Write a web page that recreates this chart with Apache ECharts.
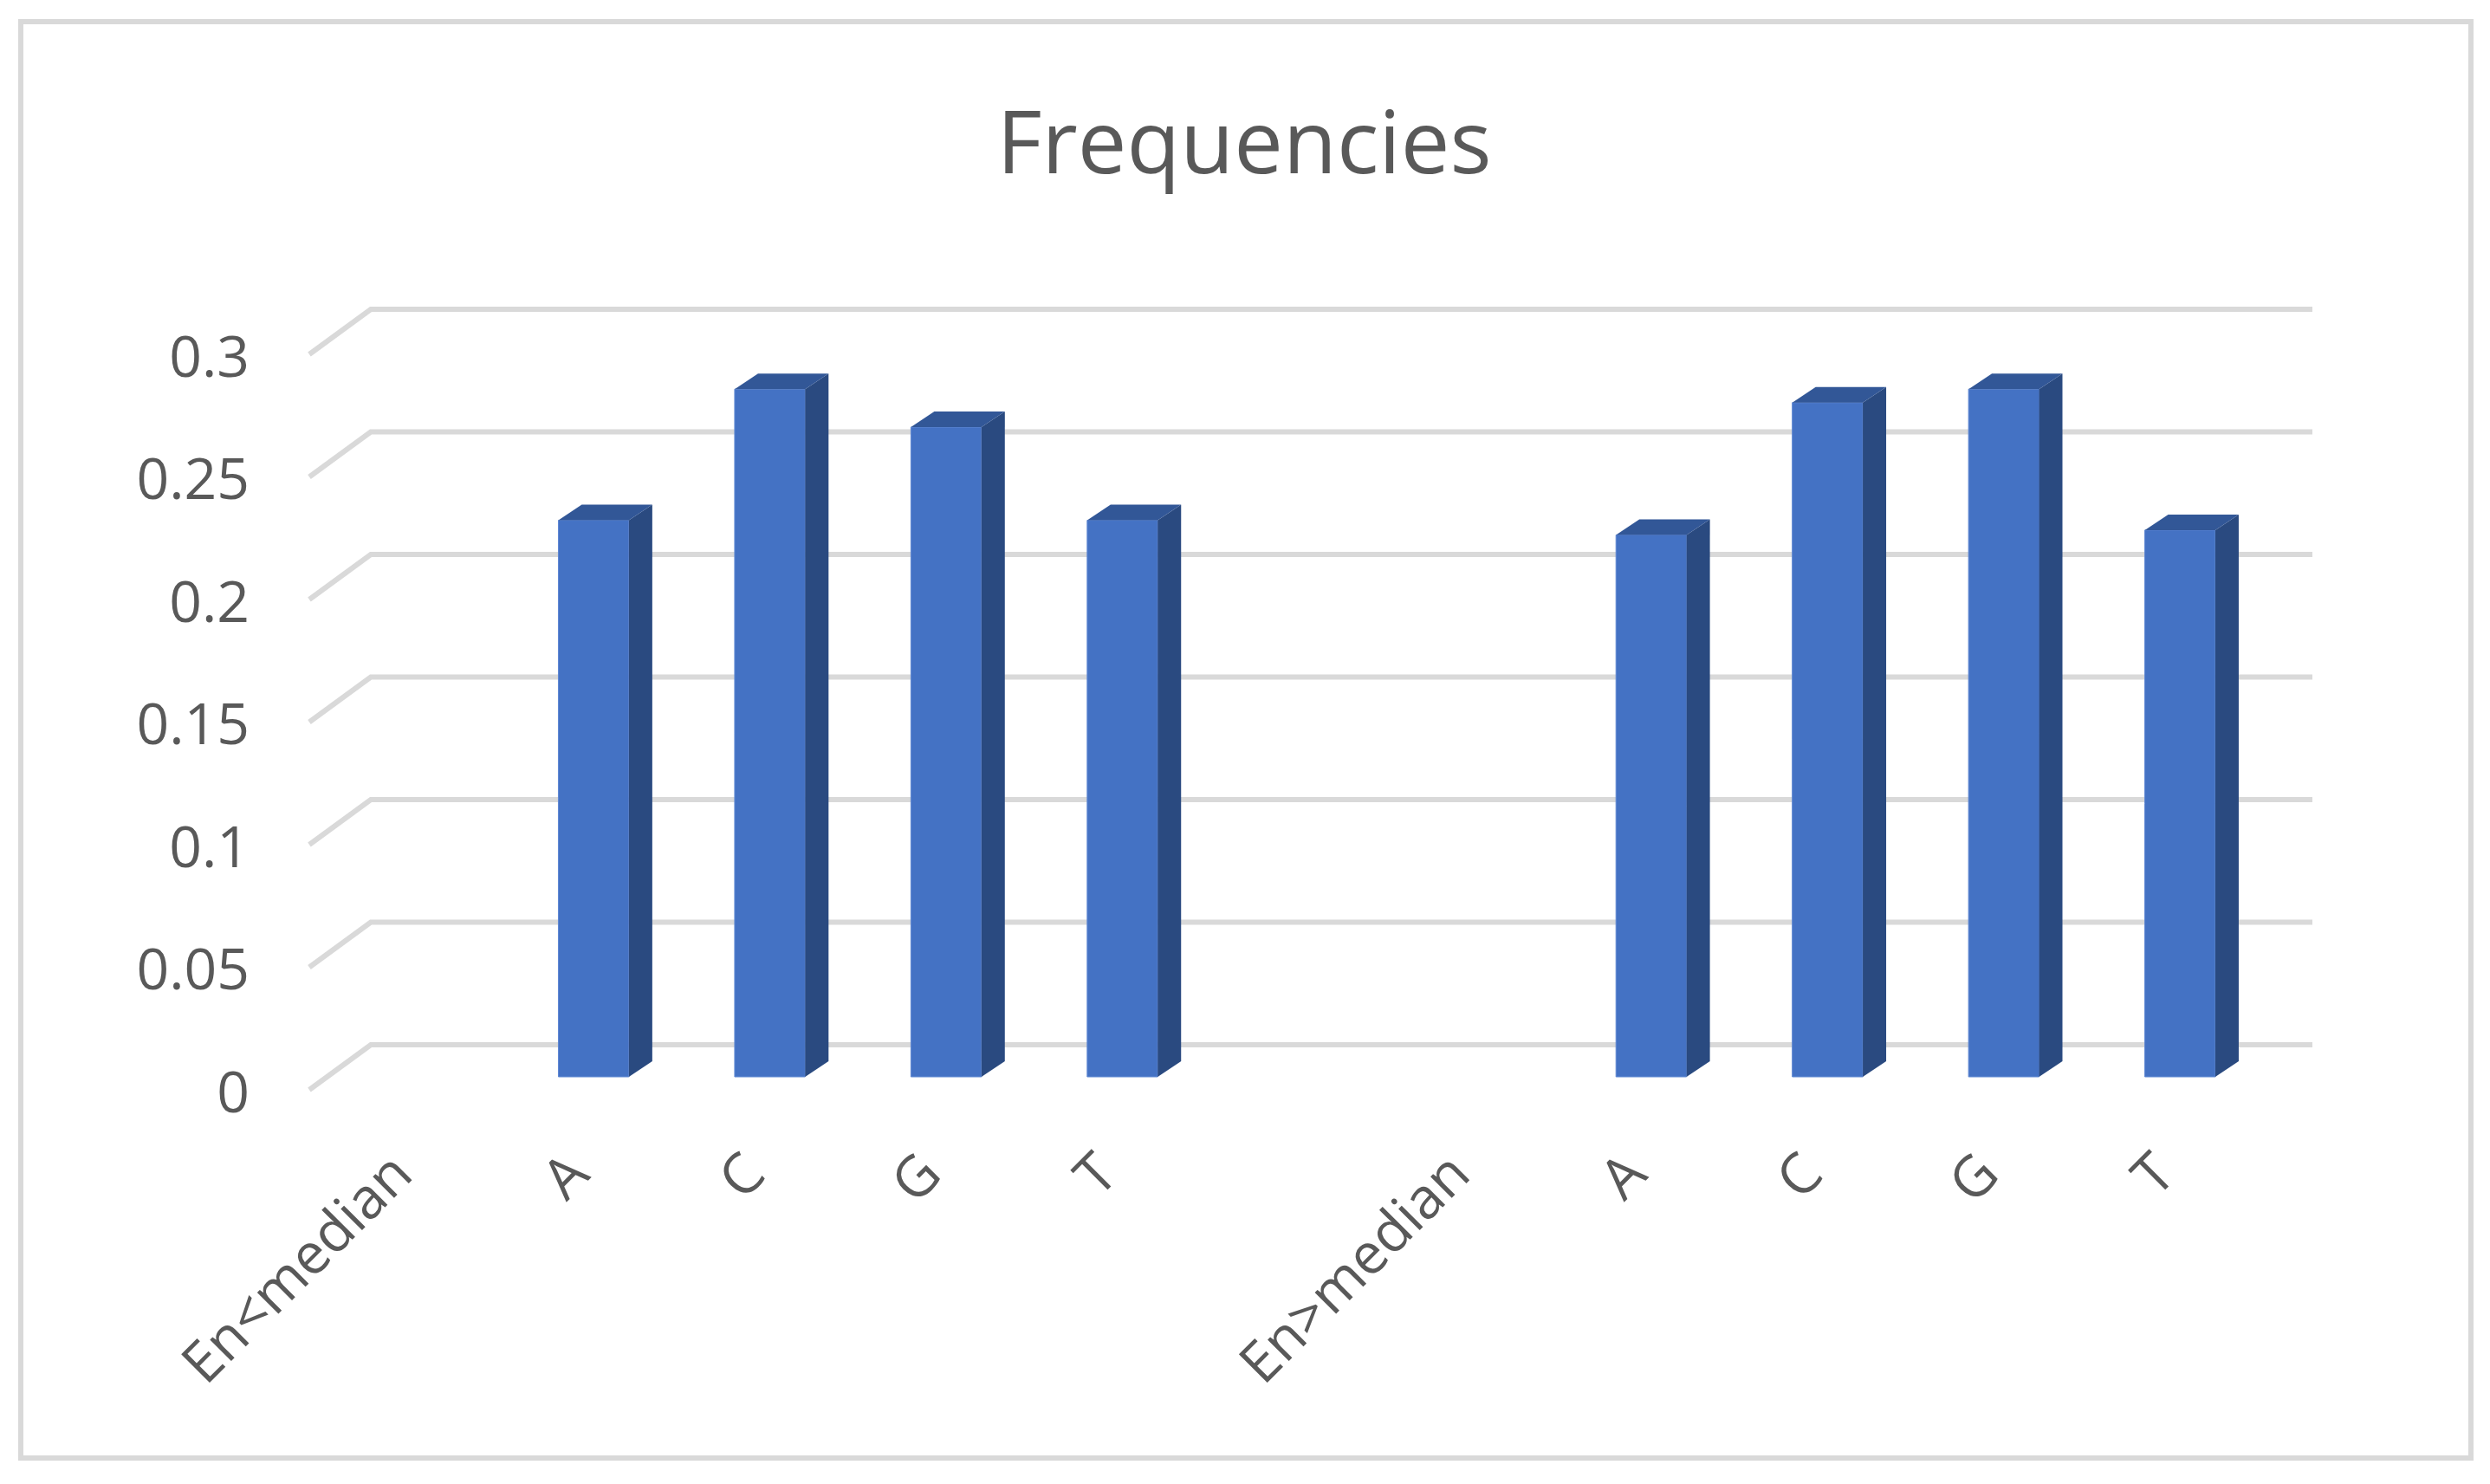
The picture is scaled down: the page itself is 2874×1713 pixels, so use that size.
<!DOCTYPE html>
<html>
<head>
<meta charset="utf-8">
<style>
  html, body { margin: 0; padding: 0; background: #fff; }
  #main { width: 2874px; height: 1713px; }
</style>
<script src="https://cdn.jsdelivr.net/npm/echarts@6/dist/echarts.min.js"></script>
</head>
<body>
<div id="main"></div>
<script>
const categories = ['En<median', 'A', 'C', 'G', 'T', '', 'En>median', 'A', 'C', 'G', 'T']
const frequencies = [null, 0.227, 0.2805, 0.265, 0.227, null, null, 0.221, 0.275, 0.2805, 0.223]
const tickValues = [0, 0.05, 0.1, 0.15, 0.2, 0.25, 0.3]

const textColor = '#595959'
const gridColor = '#d9d9d9'
const fontFamily = '"Open Sans", sans-serif'

const chart = echarts.init(document.getElementById('main'))

// fake 3d floor/wall lines, offsets are relative to the plane of the bar fronts
function renderGridLine(params, api) {
  const rect = params.coordSys
  const y = api.coord([0, api.value(0)])[1]
  return {
    type: 'polyline',
    shape: {
      points: [
        [rect.x - 23, y + 15],
        [rect.x + 48, y - 37],
        [rect.x + rect.width + 51, y - 37]
      ]
    },
    style: { fill: null, stroke: gridColor, lineWidth: 6 }
  }
}

function renderBar(params, api) {
  const top = api.coord([api.value(0), api.value(1)])
  const bottom = api.coord([api.value(0), 0])
  const width = api.size([1, 0])[0] * 0.4
  const x0 = top[0] - width / 2
  const x1 = top[0] + width / 2
  const dx = 27
  const dy = -18
  return {
    type: 'group',
    children: [
      {
        type: 'rect',
        shape: { x: x0, y: top[1], width: width, height: bottom[1] - top[1] },
        style: { fill: '#4472c4', stroke: '#5f88d4', lineWidth: 1 }
      },
      {
        type: 'polygon',
        shape: { points: [[x1, top[1]], [x1 + dx, top[1] + dy], [x1 + dx, bottom[1] + dy], [x1, bottom[1]]] },
        style: { fill: '#2a4a80' }
      },
      {
        type: 'polygon',
        shape: { points: [[x0, top[1]], [x0 + dx, top[1] + dy], [x1 + dx, top[1] + dy], [x1, top[1]]] },
        style: { fill: '#325797' }
      }
    ]
  }
}

chart.setOption({
  animation: false,
  backgroundColor: '#fff',
  title: {
    text: 'Frequencies',
    left: 1431,
    top: 116,
    textAlign: 'center',
    textStyle: { color: textColor, fontFamily: fontFamily, fontSize: 101, fontWeight: 'normal' }
  },
  graphic: [
    {
      type: 'rect',
      shape: { x: 24, y: 25, width: 2828, height: 1658 },
      style: { fill: null, stroke: gridColor, lineWidth: 6 }
    }
  ],
  grid: { left: 380, top: 394, width: 2238, height: 849 },
  xAxis: {
    type: 'category',
    data: categories,
    axisLine: { show: false },
    axisTick: { show: false },
    axisLabel: {
      interval: 0,
      rotate: 45,
      margin: 87,
      padding: [0, 22, 0, 0],
      color: textColor,
      fontFamily: fontFamily,
      fontSize: 65
    }
  },
  yAxis: {
    type: 'value',
    min: 0,
    max: 0.3,
    interval: 0.05,
    splitLine: { show: false },
    axisLine: { show: false },
    axisTick: { show: false },
    axisLabel: {
      margin: 92,
      verticalAlign: 'top',
      lineHeight: 44,
      color: textColor,
      fontFamily: fontFamily,
      fontSize: 66
    }
  },
  series: [
    {
      type: 'custom',
      renderItem: renderGridLine,
      encode: { y: 0 },
      data: tickValues.map(v => [v]),
      z: 1,
      silent: true
    },
    {
      type: 'custom',
      renderItem: renderBar,
      encode: { x: 0, y: 1 },
      data: frequencies.map((v, i) => (v === null ? null : [i, v])).filter(d => d),
      z: 2
    }
  ]
})
</script>
</body>
</html>
